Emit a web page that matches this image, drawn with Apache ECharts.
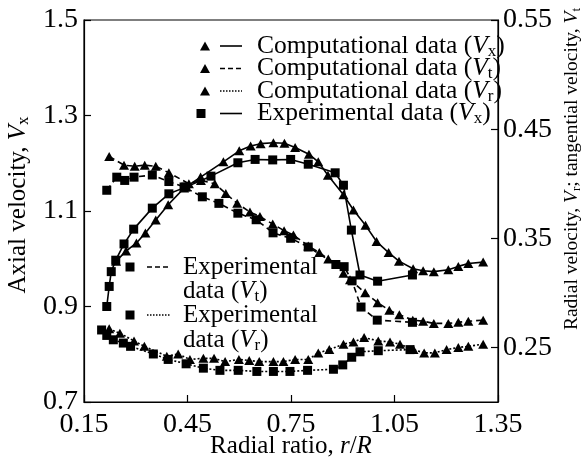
<!DOCTYPE html>
<html><head><meta charset="utf-8">
<script src="https://cdn.jsdelivr.net/npm/echarts@6/dist/echarts.min.js"></script>
<style>html,body{margin:0;padding:0;background:#fff}#c{width:587px;height:466px}</style>
</head><body><div id="c"></div>
<script>
// x = radial ratio r/R
const compVx = [[0.243,0.995],[0.272,1.016],[0.302,1.033],[0.328,1.054],[0.358,1.081],[0.394,1.113],[0.440,1.148],[0.488,1.171],[0.554,1.203],[0.600,1.226],[0.633,1.236],[0.662,1.241],[0.699,1.243],[0.731,1.242],[0.762,1.233],[0.802,1.219],[0.829,1.203],[0.857,1.175],[0.902,1.134],[0.931,1.102],[0.966,1.070],[0.998,1.036],[1.033,1.013],[1.063,0.995],[1.104,0.979],[1.133,0.975],[1.164,0.973],[1.206,0.977],[1.235,0.984],[1.264,0.990],[1.307,0.993]];
const expVx = [[0.216,0.900],[0.223,0.942],[0.229,0.973],[0.242,0.997],[0.266,1.031],[0.294,1.062],[0.348,1.106],[0.396,1.136],[0.445,1.150],[0.518,1.173],[0.596,1.201],[0.646,1.208],[0.697,1.207],[0.749,1.208],[0.800,1.198],[0.878,1.180],[0.902,1.154],[0.925,1.060],[0.950,0.966],[1.001,0.953],[1.102,0.966]];
const compVt = [[0.223,0.425],[0.266,0.417],[0.297,0.416],[0.326,0.417],[0.358,0.416],[0.396,0.410],[0.454,0.400],[0.489,0.403],[0.529,0.400],[0.561,0.391],[0.594,0.382],[0.631,0.374],[0.660,0.370],[0.697,0.363],[0.730,0.357],[0.757,0.353],[0.800,0.343],[0.832,0.337],[0.858,0.331],[0.887,0.326],[0.902,0.318],[0.921,0.312],[0.965,0.300],[1.001,0.291],[1.035,0.284],[1.064,0.280],[1.103,0.275],[1.133,0.274],[1.164,0.272],[1.206,0.272],[1.235,0.273],[1.264,0.274],[1.307,0.275]];
const expVt = [[0.216,0.394],[0.245,0.406],[0.268,0.403],[0.295,0.406],[0.348,0.408],[0.396,0.402],[0.440,0.397],[0.493,0.388],[0.541,0.382],[0.596,0.373],[0.649,0.367],[0.698,0.355],[0.749,0.350],[0.800,0.342],[0.880,0.326],[0.904,0.324],[0.927,0.311],[0.953,0.287],[1.000,0.275],[1.102,0.273]];
const compVr = [[0.223,0.267],[0.254,0.263],[0.295,0.256],[0.325,0.251],[0.390,0.242],[0.423,0.244],[0.457,0.239],[0.496,0.240],[0.527,0.240],[0.559,0.237],[0.599,0.239],[0.629,0.238],[0.658,0.237],[0.699,0.237],[0.728,0.237],[0.762,0.239],[0.800,0.239],[0.829,0.245],[0.861,0.248],[0.902,0.253],[0.931,0.255],[0.962,0.259],[1.003,0.256],[1.037,0.255],[1.066,0.253],[1.105,0.248],[1.136,0.245],[1.167,0.245],[1.201,0.248],[1.235,0.250],[1.264,0.251],[1.307,0.253]];
const expVr = [[0.201,0.266],[0.216,0.261],[0.235,0.257],[0.264,0.254],[0.285,0.251],[0.351,0.244],[0.394,0.239],[0.446,0.235],[0.496,0.231],[0.544,0.229],[0.597,0.229],[0.651,0.228],[0.699,0.228],[0.747,0.228],[0.798,0.229],[0.873,0.230],[0.900,0.234],[0.926,0.241],[0.950,0.246],[1.003,0.247],[1.095,0.248]];
const xTicks = [0.15, 0.45, 0.75, 1.05, 1.35];
const leftTicks = [0.7, 0.9, 1.1, 1.3, 1.5];
const rightTicks = [0.25, 0.35, 0.45, 0.55];

const FONT = 'Liberation Serif';
const chart = echarts.init(document.getElementById('c'), null, {renderer:'canvas'});
const TRI = [10, 9], SQ = 9;
function ser(name, data, yIdx, sym, dash){
  return {name, type:'line', data, yAxisIndex:yIdx, symbol: sym==='t'?'triangle':'rect',
    symbolSize: sym==='t'?TRI:SQ, showSymbol:true, animation:false,
    itemStyle:{color:'#000'}, lineStyle:{color:'#000', width:1.6, type:dash}, z:3};
}
const dashed = [6,4], dotted = [2,2];
function ltext(x, y, txt, size){
  size = size || 25;
  return {type:'text', x, y, z:10, style:{text:txt, fontFamily:FONT, fontSize:size, fill:'#000', verticalAlign:'middle', align:'left',
    rich:{v:{fontFamily:FONT, fontSize:size, fontStyle:'italic', fill:'#000'}, s:{fontFamily:FONT, fontSize:Math.round(size*0.68), fill:'#000', padding:[11,0,0,0]}, n:{fontFamily:FONT, fontSize:size, fill:'#000'}}}};
}
function tri(cx, cy){ return {type:'polygon', z:10, shape:{points:[[cx,cy-4.5],[cx+5,cy+4.5],[cx-5,cy+4.5]]}, style:{fill:'#000'}}; }
function sqr(cx, cy){ return {type:'rect', z:10, shape:{x:cx-4.5,y:cy-4.5,width:9,height:9}, style:{fill:'#000'}}; }
function seg(x1,x2,y,dash){ return {type:'line', z:10, shape:{x1,y1:y,x2,y2:y}, style:{stroke:'#000', lineWidth:1.6, lineDash:dash}}; }

const legRows = [46, 68.5, 91, 113.5];
const graphics = [
  tri(205, legRows[0]), seg(220,242,legRows[0],null), ltext(257, legRows[0], '{n|Computational data (}{v|V}{s|x}{n|)}', 25.5),
  tri(205, legRows[1]), seg(220,242,legRows[1],[5,3]), ltext(257, legRows[1], '{n|Computational data (}{v|V}{s|t}{n|)}', 25.5),
  tri(205, legRows[2]), seg(220,242,legRows[2],[1.5,1.5]), ltext(257, legRows[2], '{n|Computational data (}{v|V}{s|r}{n|)}', 25.5),
  sqr(201, legRows[3]), seg(220,242,legRows[3],null), ltext(257, legRows[3], '{n|Experimental data (}{v|V}{s|x}{n|)}', 25.5),
  sqr(130, 267), seg(147,171,267,[5,3]), ltext(183, 267, '{n|Experimental}'), ltext(183, 291, '{n|data (}{v|V}{s|t}{n|)}'),
  sqr(130, 315), seg(147,171,315,[1.5,1.5]), ltext(183, 315, '{n|Experimental}'), ltext(183, 340, '{n|data (}{v|V}{s|r}{n|)}'),
  // axis titles
  {type:'text', x:291, y:446, z:10, style:{text:'{n|Radial ratio, }{v|r}{n|/}{v|R}', align:'center', verticalAlign:'middle',
    rich:{n:{fontFamily:FONT,fontSize:25,fill:'#000'}, v:{fontFamily:FONT,fontSize:25,fontStyle:'italic',fill:'#000'}}}},
  {type:'text', x:18, y:205, rotation:Math.PI/2, z:10, style:{text:'{n|Axial velocity, }{v|V}{s|x}', align:'center', verticalAlign:'middle',
    rich:{n:{fontFamily:FONT,fontSize:25,fill:'#000'}, v:{fontFamily:FONT,fontSize:25,fontStyle:'italic',fill:'#000'}, s:{fontFamily:FONT,fontSize:17,fill:'#000',padding:[11,0,0,0]}}}},
  {type:'text', x:572, y:169, rotation:Math.PI/2, z:10, style:{text:'{n|Radial velocity, }{v|V}{s|r}{n|; tangential velocity, }{v|V}{s|t}', align:'center', verticalAlign:'middle',
    rich:{n:{fontFamily:FONT,fontSize:19.5,fill:'#000'}, v:{fontFamily:FONT,fontSize:19.5,fontStyle:'italic',fill:'#000'}, s:{fontFamily:FONT,fontSize:13,fill:'#000',padding:[9,0,0,0]}}}}
];

const axisCommon = {
  axisLine:{show:true, lineStyle:{color:'#000', width:1.2}},
  axisTick:{show:true, inside:true, length:7, lineStyle:{color:'#000', width:1.2}},
  splitLine:{show:false},
  axisLabel:{color:'#000', fontFamily:FONT, fontSize:28}
};
chart.setOption({
  animation:false,
  backgroundColor:'#fff',
  grid:{left:84, right:89, top:20, bottom:64, show:true, borderColor:'#000', borderWidth:1.2},
  xAxis:Object.assign({}, axisCommon, {type:'value', min:xTicks[0], max:xTicks[xTicks.length-1], interval:0.3,
    axisLabel:Object.assign({}, axisCommon.axisLabel, {margin:9, formatter:v=>v.toFixed(2), customValues:xTicks}),
    axisTick:Object.assign({}, axisCommon.axisTick, {customValues:xTicks})}),
  yAxis:[
    Object.assign({}, axisCommon, {type:'value', position:'left', min:0.7, max:1.5, interval:0.2,
      axisLabel:Object.assign({}, axisCommon.axisLabel, {margin:6, formatter:v=>v.toFixed(1), customValues:leftTicks}),
      axisTick:Object.assign({}, axisCommon.axisTick, {customValues:leftTicks})}),
    Object.assign({}, axisCommon, {type:'value', position:'right', min:0.2, max:0.55,
      axisLabel:Object.assign({}, axisCommon.axisLabel, {margin:5, formatter:v=>v.toFixed(2), customValues:rightTicks}),
      axisTick:Object.assign({}, axisCommon.axisTick, {customValues:rightTicks})})
  ],
  series:[
    ser('Computational data (Vx)', compVx, 0, 't', 'solid'),
    ser('Computational data (Vt)', compVt, 1, 't', dashed),
    ser('Computational data (Vr)', compVr, 1, 't', dotted),
    ser('Experimental data (Vx)', expVx, 0, 's', 'solid'),
    ser('Experimental data (Vt)', expVt, 1, 's', dashed),
    ser('Experimental data (Vr)', expVr, 1, 's', dotted)
  ],
  graphic: graphics
});
</script>
</body></html>
